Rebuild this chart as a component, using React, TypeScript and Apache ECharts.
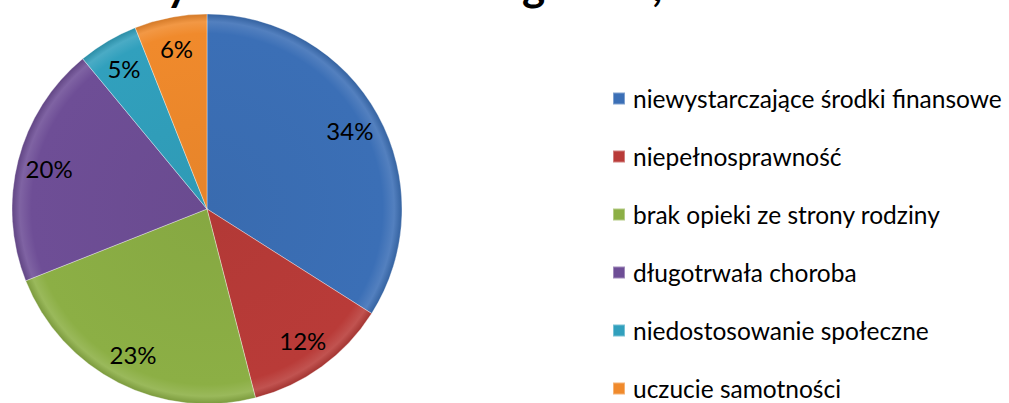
import React, { useEffect, useRef } from "react";
import * as echarts from "echarts";

const categories = [
  "niewystarczające środki finansowe",
  "niepełnosprawność",
  "brak opieki ze strony rodziny",
  "długotrwała choroba",
  "niedostosowanie społeczne",
  "uczucie samotności",
];
const values = [34, 12, 23, 20, 5, 6];
const colors = ["#3B6FB6", "#B93B38", "#8CAF45", "#6E4E96", "#31A0BD", "#F08A2C"];
const titleFragments = ["y", "g", ","];

function shade(hex: string, f: number) {
  const n = parseInt(hex.slice(1), 16);
  const ch = [(n >> 16) & 255, (n >> 8) & 255, n & 255].map((c) =>
    Math.max(0, Math.min(255, Math.round(f > 0 ? c + (255 - c) * f : c * (1 + f))))
  );
  return "rgb(" + ch.join(",") + ")";
}

export default function App() {
  const ref = useRef<HTMLDivElement>(null);
  useEffect(() => {
    if (!ref.current) return;
    const chart = echarts.init(ref.current, undefined, { renderer: "svg" });
    const cx = 207;
    const cy = 209;
    const R = 195;
    const data = categories.map((name, i) => ({
      name,
      value: values[i],
      itemStyle: {
        color: new echarts.graphic.RadialGradient(
          cx,
          cy,
          R,
          [
            { offset: 0, color: shade(colors[i], -0.04) },
            { offset: 0.9, color: colors[i] },
            { offset: 0.96, color: shade(colors[i], 0.12) },
            { offset: 1, color: shade(colors[i], -0.12) },
          ],
          true
        ),
      },
    }));
    const fragX = [166, 522, 652];
    chart.setOption({
      animation: false,
      backgroundColor: "#ffffff",
      legend: {
        orient: "vertical",
        left: 612,
        top: 86,
        padding: 0,
        height: 317,
        icon: "rect",
        itemWidth: 12,
        itemHeight: 12,
        itemGap: 33,
        selectedMode: false,
        data: categories.map((name, i) => ({ name, itemStyle: { color: colors[i] } })),
        textStyle: {
          fontFamily: "Lato",
          fontSize: 24.5,
          lineHeight: 24,
          color: "#000",
          padding: [0, 0, 0, 3],
        },
      },
      graphic: titleFragments.map((t, i) => ({
        type: "text",
        x: fragX[i],
        y: -6,
        z: 100,
        style: {
          text: t,
          font: "bold 44px Lato",
          fill: "#000",
          verticalAlign: "bottom",
          lineHeight: 20,
        },
        silent: true,
      })),
      series: [
        {
          type: "pie",
          center: [cx, cy],
          radius: [0, R],
          startAngle: 90,
          clockwise: true,
          data,
          label: { show: false },
          labelLine: { show: false },
          itemStyle: { borderColor: "rgba(255,255,255,0.35)", borderWidth: 1 },
          silent: true,
        },
        {
          type: "pie",
          center: [cx, cy],
          radius: [125, R],
          startAngle: 90,
          clockwise: true,
          data: categories.map((name, i) => ({ name: name + " ", value: values[i] })),
          itemStyle: { color: "transparent" },
          label: {
            show: true,
            position: "inside",
            formatter: "{c}%",
            fontFamily: "Lato",
            fontSize: 24,
            color: "#000",
          },
          labelLine: { show: false },
          silent: true,
        },
      ],
    });
    return () => chart.dispose();
  }, []);
  return (
    <div
      ref={ref}
      style={{ position: "absolute", left: 0, top: 0, width: 1009, height: 403 }}
    />
  );
}
